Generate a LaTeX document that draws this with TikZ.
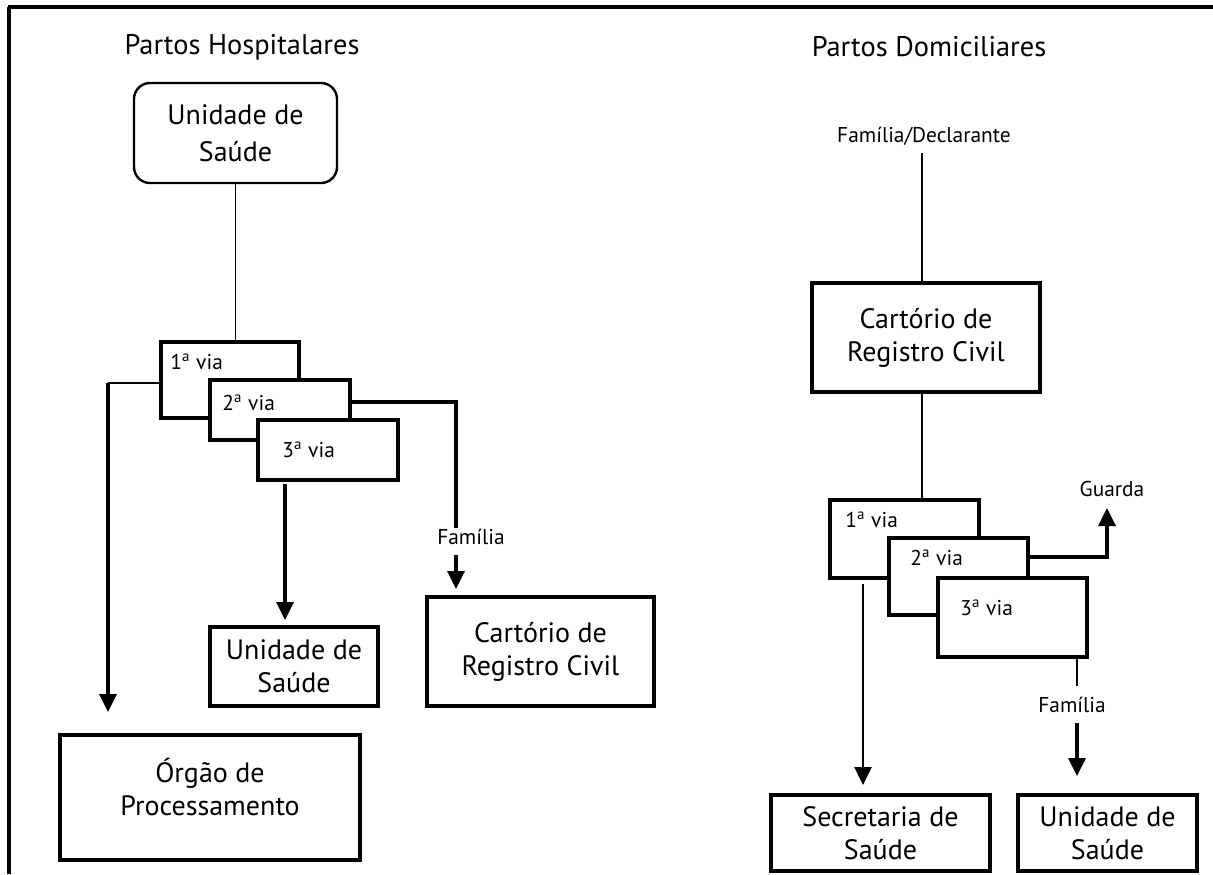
\documentclass[tikz,border=0pt]{standalone}
\usepackage{fontspec}
\setmainfont{PT Sans}
\usetikzlibrary{arrows.meta,calc}
\begin{document}
\begin{tikzpicture}[x=0.5pt,y=-0.5pt,
  box/.style={draw,line width=1.8pt,fill=white,inner sep=0pt,align=center,font=\fontsize{14}{16.5}\selectfont},
  via/.style={draw,line width=1.7pt,fill=white,inner sep=0pt},
  small/.style={font=\fontsize{10.7}{12}\selectfont,inner sep=0pt},
  bigtext/.style={font=\fontsize{14}{16.5}\selectfont,align=center,inner sep=0pt},
  title/.style={font=\fontsize{14.2}{16}\selectfont,inner sep=0pt},
  thinline/.style={line width=0.8pt},
  link/.style={line width=1.7pt},
  arr/.style={line width=1.7pt,-{Triangle[length=9pt,width=8.5pt]}},
  arrthin/.style={line width=1.2pt,-{Triangle[length=9pt,width=8.5pt]}}]
\useasboundingbox (0,0) rectangle (1213,874);
% frame
\draw[line width=2.2pt] (8,7) -- (1213,7);
\draw[line width=1.7pt] (9,7) -- (9,874);

% ===== Left: Partos Hospitalares =====
\node[title] (tH) at (242,47) {Partos Hospitalares};
\node[box,line width=1.2pt,rounded corners=8pt,minimum width=101.5pt,minimum height=50pt,font=\fontsize{14}{18.5}\selectfont] (usTop) at (235.5,133) {Unidade de\\Saúde};

\node[via,minimum width=69pt,minimum height=38pt] (v1L) at (230,380) {};
\node[via,minimum width=70pt,minimum height=30pt] (v2L) at (280,410) {};
\node[via,minimum width=70pt,minimum height=30pt] (v3L) at (328,450) {};
\node[small,anchor=west] (t1L) at (170,362) {1\textsuperscript{a} via};
\node[small,anchor=west] (t2L) at (222,403) {2\textsuperscript{a} via};
\node[small,anchor=west] (t3L) at (282,450) {3\textsuperscript{a} via};

\node[box,minimum width=84pt,minimum height=39.5pt] (usL) at (294,666.5) {Unidade de\\Saúde};
\node[box,minimum width=113.5pt,minimum height=54.5pt] (cartL) at (540.5,651.5) {Cartório de\\Registro Civil};
\node[box,minimum width=150pt,minimum height=62.5pt] (orgao) at (210,797.5) {};
\node[bigtext] (orgaoT) at (210,787) {Órgão de\\Processamento};
\node[small] (famL) at (471,537) {Família};

\draw[thinline] (usTop.south) -- (usTop.south |- v1L.north);
\coordinate (cL) at (108,383);
\coordinate (aL) at (108,712);
\draw[thinline] (v1L.west |- cL) -- (cL);
\draw[arr] (cL) -- (aL);
\coordinate (c2L) at (456,402);
\coordinate (e2L) at (456,528);
\coordinate (s2L) at (456,555);
\coordinate (a2L) at (456,589);
\draw[link] (v2L.east |- c2L) -- (c2L) -- (e2L);
\draw[arr] (s2L) -- (a2L);
\coordinate (s3L) at (285,484);
\coordinate (a3L) at (285,620);
\draw[arr] (s3L) -- (a3L);

% ===== Right: Partos Domiciliares =====
\node[title] (tD) at (929,47) {Partos Domiciliares};
\node[small] (famD) at (924,136) {Família/Declarante};
\node[box,minimum width=114pt,minimum height=54.5pt] (cartR) at (926,337.5) {Cartório de\\Registro Civil};
\coordinate (sD) at (922,153);
\draw[thinline,line width=1pt] (sD) -- (cartR.north -| sD);

\node[via,minimum width=74.5pt,minimum height=39pt] (v1R) at (904.5,539) {};
\node[via,minimum width=69.5pt,minimum height=38.5pt] (v2R) at (958.5,576.5) {};
\node[via,minimum width=74.5pt,minimum height=39.5pt] (v3R) at (1012.5,617.5) {};
\node[small,anchor=west] (t1R) at (845,520) {1\textsuperscript{a} via};
\node[small,anchor=west] (t2R) at (910,558) {2\textsuperscript{a} via};
\node[small,anchor=west] (t3R) at (960,608) {3\textsuperscript{a} via};
\draw[thinline,line width=1pt] (cartR.south -| sD) -- (v1R.north -| sD);

\node[small] (guarda) at (1112,489) {Guarda};
\node[small] (famR) at (1072,705) {Família};
\node[box,minimum width=109.5pt,minimum height=38pt] (sec) at (880.5,833) {Secretaria de\\Saúde};
\node[box,minimum width=89.5pt,minimum height=38pt] (usR) at (1107.5,833) {Unidade de\\Saúde};

\coordinate (c2R) at (1107,557);
\coordinate (a2R) at (1107,508);
\draw[arr] (v2R.east |- c2R) -- (c2R) -- (a2R);
\coordinate (c3R) at (1077,686);
\draw[link,line width=1.2pt] (v3R.south -| c3R) -- (c3R);
\coordinate (s3R) at (1077,723);
\coordinate (a3R) at (1077,776);
\draw[arr] (s3R) -- (a3R);
\coordinate (s1R) at (863,584);
\coordinate (a1R) at (863,785);
\draw[arrthin] (s1R) -- (a1R);
\end{tikzpicture}
\end{document}
